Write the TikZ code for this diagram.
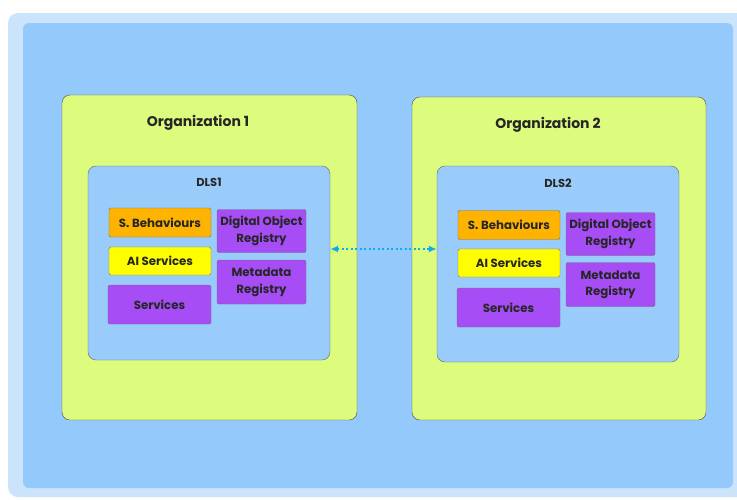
\documentclass[tikz,border=0pt]{standalone}
\usepackage{fontspec}
\setmainfont{Poppins}
\usetikzlibrary{arrows.meta}
\definecolor{paleblue}{HTML}{CCE4FB}
\definecolor{skyblue}{HTML}{94C9FB}
\definecolor{limegreen}{HTML}{DDFB7C}
\definecolor{dlsblue}{HTML}{99CCFB}
\definecolor{behorange}{HTML}{FDB300}
\definecolor{aiyellow}{HTML}{FEFE00}
\definecolor{regpurple}{HTML}{A64DF5}
\definecolor{linkcyan}{HTML}{11AAEE}
\begin{document}
\begin{tikzpicture}[x=1pt,y=-1pt]
        \tikzstyle{org}=[rectangle, rounded corners=8pt, draw=black!70, fill=limegreen, inner sep=0pt]
        \tikzstyle{dls}=[rectangle, rounded corners=8pt, draw=black!60, fill=dlsblue, inner sep=0pt]
        \tikzstyle{blk}=[rectangle, rounded corners=1.5pt, draw=black!55, inner sep=0pt, align=center, font=\fontsize{11.8}{16.5}\selectfont\bfseries, text=black!85]
        \tikzstyle{title}=[font=\fontsize{14}{17}\selectfont\bfseries, text=black!85]
        \tikzstyle{sub}=[font=\fontsize{11.5}{14}\selectfont\bfseries, text=black!85]

        \useasboundingbox (0,0) rectangle (737,499);
        \fill[paleblue, rounded corners=10pt] (8,13) rectangle (760,497);
        \fill[skyblue, rounded corners=6pt] (23,23) rectangle (733,488);

        % organization 1
        \node[org, minimum width=295, minimum height=325] (O1) at (209.5,257.5) {};
        \node[title] (T1) at (198,123) {Organization 1};
        \node[dls, minimum width=242, minimum height=194] (D1) at (209,263) {};
        \node[sub] (L1) at (209,182) {DLS1};
        \node[blk, fill=behorange, minimum width=102, minimum height=29] (B1) at (160,222.5) {S. Behaviours};
        \node[blk, fill=aiyellow, minimum width=102, minimum height=28] (A1) at (160,261) {AI Services};
        \node[blk, fill=regpurple, minimum width=103, minimum height=39] (S1) at (159.5,304.5) {Services};
        \node[blk, fill=regpurple, minimum width=89, minimum height=43] (R1) at (261.5,231) {Digital Object\\Registry};
        \node[blk, fill=regpurple, minimum width=89, minimum height=44] (M1) at (261.5,282) {Metadata\\Registry};

        % organization 2
        \node[org, minimum width=294, minimum height=323] (O2) at (559,258.5) {};
        \node[title] (T2) at (548,125) {Organization 2};
        \node[dls, minimum width=242, minimum height=196] (D2) at (558,264) {};
        \node[sub] (L2) at (558,183) {DLS2};
        \node[blk, fill=behorange, minimum width=102, minimum height=29] (B2) at (509,225) {S. Behaviours};
        \node[blk, fill=aiyellow, minimum width=102, minimum height=28] (A2) at (509,263) {AI Services};
        \node[blk, fill=regpurple, minimum width=103, minimum height=39] (S2) at (508.5,307.5) {Services};
        \node[blk, fill=regpurple, minimum width=89, minimum height=43] (R2) at (610.5,234) {Digital Object\\Registry};
        \node[blk, fill=regpurple, minimum width=89, minimum height=44] (M2) at (610.5,284.5) {Metadata\\Registry};

        \draw[{Latex[length=8pt,width=7pt]}-{Latex[length=8pt,width=7pt]}, linkcyan, line width=1.6pt, dash pattern=on 2pt off 2.5pt] (D1.east |- 0,249) -- (D2.west |- 0,249);
    \end{tikzpicture}
\end{document}
